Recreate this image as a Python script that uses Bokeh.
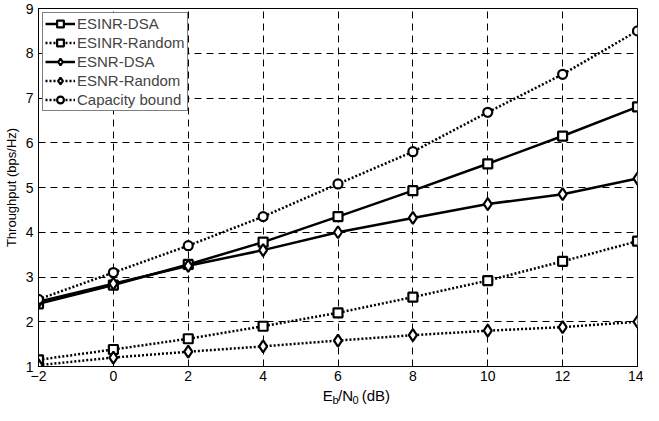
from bokeh.plotting import figure
from bokeh.layouts import column
from bokeh.models import Range1d, FixedTicker, Legend, LegendItem, ColumnDataSource
from bokeh.core.properties import value
from bokeh.embed import file_html
from bokeh.resources import INLINE

x = [-2, 0, 2, 4, 6, 8, 10, 12, 14]
esinr_dsa = [2.40, 2.82, 3.28, 3.78, 4.35, 4.93, 5.53, 6.15, 6.80]
esinr_random = [1.15, 1.38, 1.62, 1.90, 2.20, 2.55, 2.92, 3.35, 3.80]
esnr_dsa = [2.45, 2.85, 3.25, 3.60, 4.00, 4.32, 4.63, 4.85, 5.20]
esnr_random = [1.03, 1.20, 1.33, 1.45, 1.58, 1.70, 1.80, 1.88, 2.00]
capacity = [2.50, 3.10, 3.70, 4.35, 5.08, 5.80, 6.68, 7.53, 8.50]
x_ticks = [-2, 0, 2, 4, 6, 8, 10, 12, 14]
y_ticks = [1, 2, 3, 4, 5, 6, 7, 8, 9]
xlabel_parts = ["E", "b", "/N", "0", "(dB)"]

FONT = "Liberation Sans"
W = 643

p = figure(width=W, height=388, output_backend="svg", toolbar_location=None,
           x_range=Range1d(-2, 14), y_range=Range1d(1, 9),
           min_border_left=36, min_border_right=6, min_border_top=8, min_border_bottom=22)
p.outline_line_color = "black"
p.outline_line_width = 1
p.background_fill_color = "white"

for ax in (p.xaxis[0], p.yaxis[0]):
    ax.major_label_text_font = FONT
    ax.major_label_text_font_size = "14px"
    ax.major_label_text_color = "black"
    ax.axis_line_color = "black"
    ax.major_tick_line_color = "black"
    ax.major_tick_in = 4
    ax.major_tick_out = 0
    ax.minor_tick_line_color = None
p.xaxis[0].ticker = FixedTicker(ticks=x_ticks)
p.yaxis[0].ticker = FixedTicker(ticks=y_ticks)
p.xaxis[0].major_label_standoff = 4
p.yaxis[0].major_label_standoff = 5
p.yaxis[0].axis_label = "Throughput (bps/Hz)"
p.yaxis[0].axis_label_text_font = FONT
p.yaxis[0].axis_label_text_font_style = "normal"
p.yaxis[0].axis_label_text_font_size = "13px"
p.yaxis[0].axis_label_text_color = "black"
p.yaxis[0].axis_label_standoff = 4

for g in (p.xgrid[0], p.ygrid[0]):
    g.grid_line_color = "black"
    g.grid_line_alpha = 1
    g.grid_line_dash = "7 5"
    g.grid_line_width = 1

series = [
    ("ESINR-DSA", esinr_dsa, "solid", "square", 9),
    ("ESINR-Random", esinr_random, "2 2", "square", 9),
    ("ESNR-DSA", esnr_dsa, "solid", "diamond", 12),
    ("ESNR-Random", esnr_random, "2 2", "diamond", 12),
    ("Capacity bound", capacity, "2 2", "circle", 9),
]
items = []
for name, ys, dash, marker, size in series:
    r1 = p.line(x, ys, line_color="black", line_width=2.5, line_dash=dash)
    r2 = p.scatter(x, ys, marker=marker, size=size, line_color="black",
                   line_width=2.2, fill_color="white")
    items.append(LegendItem(label=name, renderers=[r1, r2]))

leg = Legend(items=items, location="top_left")
leg.label_text_font = FONT
leg.label_text_font_size = "15px"
leg.label_height = 17
leg.glyph_width = 30
leg.glyph_height = 17
leg.spacing = 2
leg.padding = 2
leg.margin = 4
leg.label_standoff = 2
leg.border_line_color = "black"
leg.border_line_width = 1
leg.background_fill_alpha = 1
p.add_layout(leg)

# x axis label strip: E_b/N_0 (dB) with subscripts
H2 = 17
q = figure(width=W, height=H2, output_backend="svg", toolbar_location=None,
           x_range=Range1d(0, W), y_range=Range1d(0, H2), min_border=0)
q.axis.visible = False
q.grid.visible = False
q.outline_line_color = None
lab_x = [305, 315.5, 321.5, 337, 347]
lab_y = [10, 5.5, 10, 5.5, 10]
lab_fs = ["15px", "11px", "15px", "11px", "15px"]
src = ColumnDataSource(dict(x=lab_x, y=lab_y, t=xlabel_parts, fs=lab_fs))
q.text(x="x", y="y", text="t", source=src, text_font=value(FONT), text_font_size="fs",
       text_color="black", text_baseline="middle", text_align="left")

layout = column(p, q, spacing=0)
open("out.html", "w").write(file_html(layout, INLINE))
